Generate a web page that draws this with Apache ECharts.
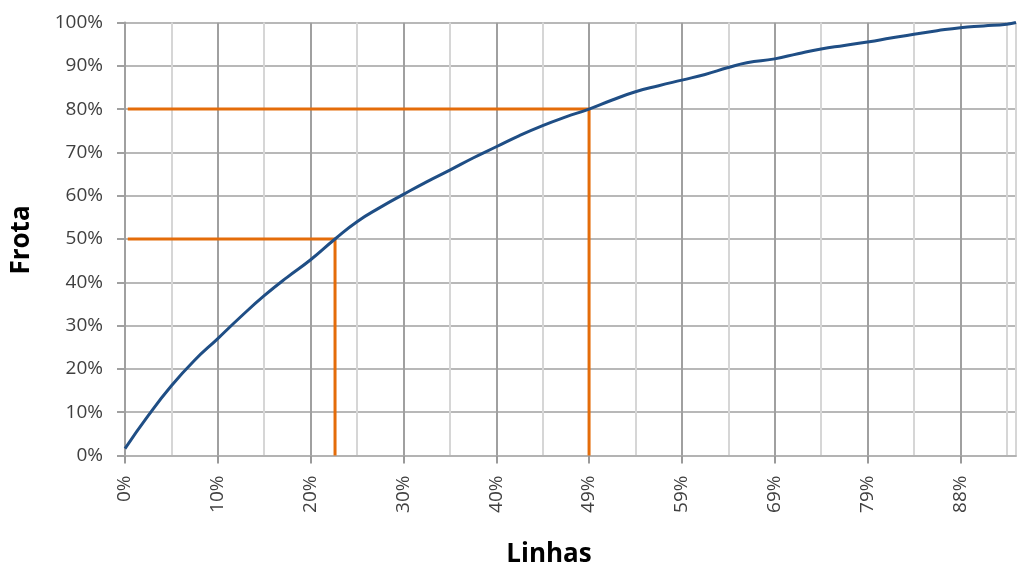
<!DOCTYPE html>
<html>
<head>
<meta charset="utf-8">
<script src="https://cdn.jsdelivr.net/npm/echarts@6/dist/echarts.min.js"></script>
<style>
  html, body { margin: 0; padding: 0; background: #ffffff; }
  #chart { width: 1017px; height: 568px; }
</style>
</head>
<body>
<div id="chart"></div>
<script>
// x positions are measured in label steps along the "Linhas" axis (0 = first label, 1 = next, ...)
const linhasTickLabels = ['0%', '10%', '20%', '30%', '40%', '49%', '59%', '69%', '79%', '88%'];
const linhasMax = 9.6;

// cumulative curve: position along Linhas axis and cumulative Frota share (%)
const linhasPos = [0, 0.25, 0.5, 0.75, 1.0, 1.25, 1.5, 1.75, 2.0, 2.263, 2.5, 2.75, 3.0,
  3.25, 3.5, 3.75, 4.0, 4.25, 4.5, 4.75, 5.0, 5.25, 5.5, 5.75, 6.0, 6.25, 6.5, 6.7,
  7.0, 7.25, 7.5, 7.75, 8.0, 8.25, 8.5, 8.75, 9.0, 9.25, 9.5, 9.6];
const frotaPct = [1.6, 9.2, 16.1, 22.0, 27.0, 32.1, 36.9, 41.2, 45.2, 50.0, 54.0, 57.3, 60.3,
  63.2, 65.9, 68.7, 71.3, 73.9, 76.2, 78.2, 80.0, 82.1, 84.0, 85.4, 86.7, 88.0, 89.6, 90.7,
  91.6, 92.8, 93.9, 94.7, 95.5, 96.4, 97.3, 98.1, 98.8, 99.2, 99.6, 100];

// reference guides: 50% and 80% of the fleet
const guideFrota = [50, 80];
const guideLinhas = [2.263, 5.0];
const guideStart = 0.03;

const curve = linhasPos.map((x, i) => [x, frotaPct[i]]);
const guideSeries = guideFrota.map((y, i) => ({
  type: 'line',
  data: [[guideStart, y], [guideLinhas[i], y], [guideLinhas[i], 0]],
  symbol: 'none',
  lineStyle: { color: '#E46C0A', width: 3 },
  z: 3,
  silent: true
}));

const labelFont = { fontFamily: 'Open Sans', fontSize: 19, color: '#404040' };
const majorValues = linhasTickLabels.map((_, i) => i);

const chart = echarts.init(document.getElementById('chart'), null, { renderer: 'canvas' });
chart.setOption({
  animation: false,
  backgroundColor: '#ffffff',
  grid: { left: 125, right: 1, top: 22.5, bottom: 112.5, containLabel: false },
  xAxis: [
    {
      // half-step light grid lines
      type: 'value',
      position: 'bottom',
      min: 0,
      max: linhasMax,
      interval: 0.5,
      axisLine: { show: false },
      axisTick: { show: false },
      axisLabel: { show: false },
      splitLine: { show: true, lineStyle: { color: '#d6d6d6', width: 2 } }
    },
    {
      // labelled steps: darker grid lines, ticks and labels
      type: 'value',
      position: 'bottom',
      min: 0,
      max: linhasMax,
      interval: 1,
      z: 1,
      axisLine: { show: true, lineStyle: { color: '#b3b3b3', width: 2 } },
      axisTick: {
        show: true,
        length: 8,
        customValues: majorValues,
        lineStyle: { color: '#9a9a9a', width: 2 }
      },
      axisLabel: {
        show: true,
        customValues: majorValues,
        rotate: 90,
        margin: 20,
        ...labelFont,
        formatter: v => linhasTickLabels[Math.round(v)] || ''
      },
      splitLine: { show: true, lineStyle: { color: '#a0a0a0', width: 2 } }
    }
  ],
  yAxis: {
    type: 'value',
    min: 0,
    max: 100,
    interval: 10,
    axisLine: { show: true, lineStyle: { color: '#a0a0a0', width: 2 } },
    axisTick: { show: true, length: 8, lineStyle: { color: '#a0a0a0', width: 2 } },
    axisLabel: { margin: 22, ...labelFont, formatter: '{value}%' },
    splitLine: { show: true, lineStyle: { color: '#b8b8b8', width: 2 } }
  },
  graphic: [
    {
      type: 'text',
      x: 22, y: 240,
      rotation: Math.PI / 2,
      style: {
        text: 'Frota', fontFamily: 'Open Sans', fontWeight: 'bold', fontSize: 26,
        fill: '#000000', align: 'center', verticalAlign: 'middle'
      }
    },
    {
      type: 'text',
      x: 549, y: 555,
      style: {
        text: 'Linhas', fontFamily: 'Open Sans', fontWeight: 'bold', fontSize: 26,
        fill: '#000000', align: 'center', verticalAlign: 'middle'
      }
    }
  ],
  series: [
    ...guideSeries,
    {
      type: 'line',
      data: curve,
      symbol: 'none',
      smooth: 0.5,
      lineStyle: { color: '#1F4E85', width: 3 },
      z: 4
    }
  ]
});
</script>
</body>
</html>
